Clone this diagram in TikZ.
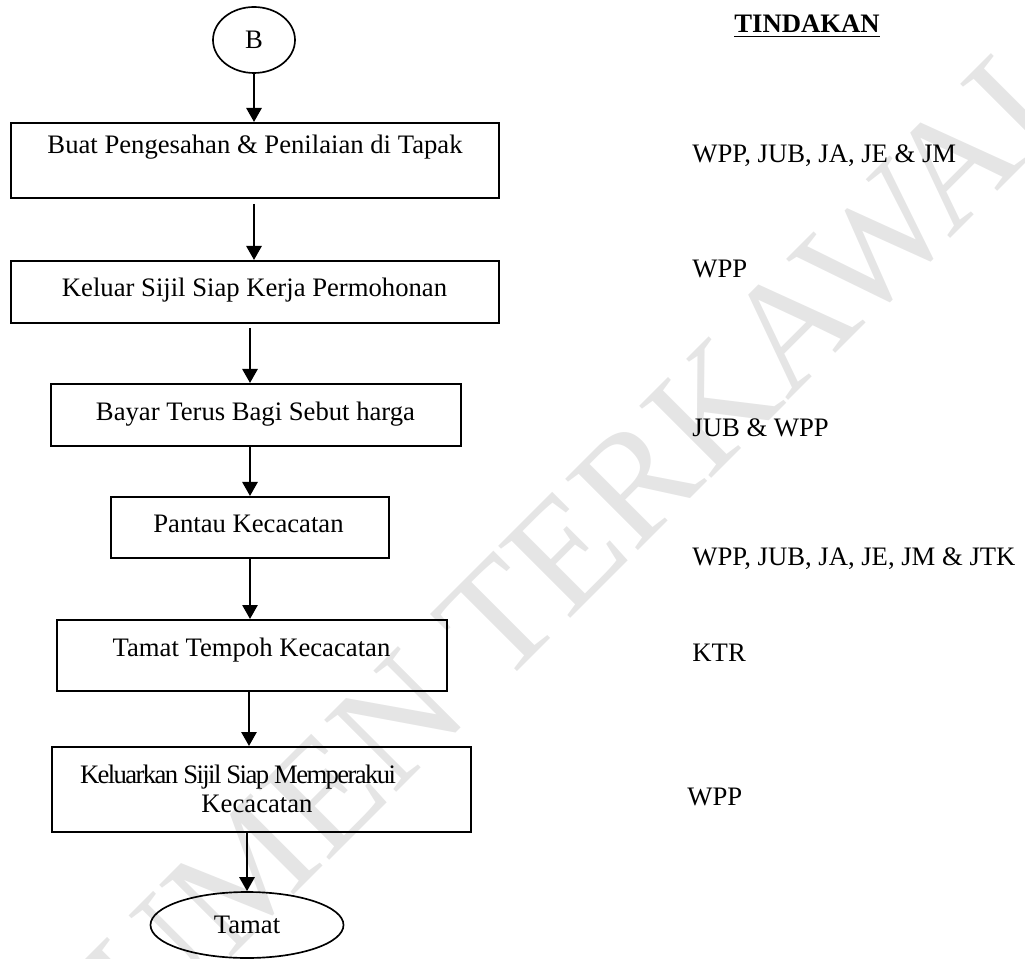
\documentclass[tikz,border=0pt]{standalone}
\usepackage{fontspec}
\setmainfont{Liberation Serif}
\usetikzlibrary{arrows.meta,shapes.geometric}

\begin{document}
\begin{tikzpicture}[x=0.45pt,y=-0.45pt,
  every node/.style={font=\fontsize{12}{14}\selectfont},
  stepbox/.style={draw,line width=0.9pt,inner sep=0pt},
  oval/.style={draw,ellipse,line width=0.75pt,inner sep=0pt},
  flow/.style={line width=1.1pt,-{Triangle[length=6.3pt,width=6.8pt]}},
  lbl/.style={anchor=base,inner sep=0pt},
  who/.style={anchor=base west,inner sep=0pt},
  wmtext/.style={text=black!10,inner sep=0pt,rotate=45,
    font=\fontsize{70}{70}\selectfont}]

\useasboundingbox (0,0) rectangle (1025,959);

% faint diagonal watermark
\begin{scope}
  \clip (0,0) rectangle (1025,959);
  \node[wmtext] (wm) at (468,650) {DOKUMEN TERKAWAL};
\end{scope}

% columns used by the connectors
\coordinate (c254) at (254,0);
\coordinate (c250) at (250,0);
\coordinate (c249) at (249,0);
\coordinate (c247) at (247,0);

% start and end terminals
\node[oval,minimum width=82*0.45pt,minimum height=66*0.45pt] (start) at (254,40) {B};
\node[oval,minimum width=193*0.45pt,minimum height=66*0.45pt] (stop) at (247,925) {Tamat};

% process boxes
\node[stepbox,minimum width=488*0.45pt,minimum height=75*0.45pt] (b1) at (255,160.5) {};
\node[stepbox,minimum width=488*0.45pt,minimum height=62*0.45pt] (b2) at (255,292) {};
\node[stepbox,minimum width=410*0.45pt,minimum height=62*0.45pt] (b3) at (256,415) {};
\node[stepbox,minimum width=278*0.45pt,minimum height=61*0.45pt] (b4) at (250,527.5) {};
\node[stepbox,minimum width=390*0.45pt,minimum height=71*0.45pt] (b5) at (252,655.5) {};
\node[stepbox,minimum width=419*0.45pt,minimum height=85*0.45pt] (b6) at (261.5,789.5) {};

% box texts
\node[lbl] (t1) at (255,154) {Buat Pengesahan \& Penilaian di Tapak};
\node[lbl] (t2) at (254.5,297) {Keluar Sijil Siap Kerja Permohonan};
\node[lbl] (t3) at (255.5,421) {Bayar Terus Bagi Sebut harga};
\node[lbl] (t4) at (248.5,533) {Pantau Kecacatan};
\node[lbl] (t5) at (251.5,656) {Tamat Tempoh Kecacatan};
\node[lbl] (t6a) at (238,783) {\addfontfeature{LetterSpace=-6.0}Keluarkan Sijil Siap Memperakui};
\node[lbl] (t6b) at (257,812) {Kecacatan};

% connectors
\draw[flow] (start.south -| c254) -- (b1.north -| c254);
\draw[flow,shorten <=5*0.45pt] (b1.south -| c254) -- (b2.north -| c254);
\draw[flow,shorten <=4*0.45pt] (b2.south -| c250) -- (b3.north -| c250);
\draw[flow] (b3.south -| c250) -- (b4.north -| c250);
\draw[flow] (b4.south -| c250) -- (b5.north -| c250);
\draw[flow] (b5.south -| c249) -- (b6.north -| c249);
\draw[flow] (b6.south -| c247) -- (stop.north -| c247);

% responsibility column
\node[lbl] (head) at (807,33) {\underline{\textbf{TINDAKAN}}};
\node[who] (r1) at (692,163) {WPP, JUB, JA, JE \& JM};
\node[who] (r2) at (692,278) {WPP};
\node[who] (r3) at (692,437) {JUB \& WPP};
\node[who] (r4) at (692,565) {WPP, JUB, JA, JE, JM \& JTK};
\node[who] (r5) at (692,661) {KTR};
\node[who] (r6) at (687,805) {WPP};

\end{tikzpicture}
\end{document}
